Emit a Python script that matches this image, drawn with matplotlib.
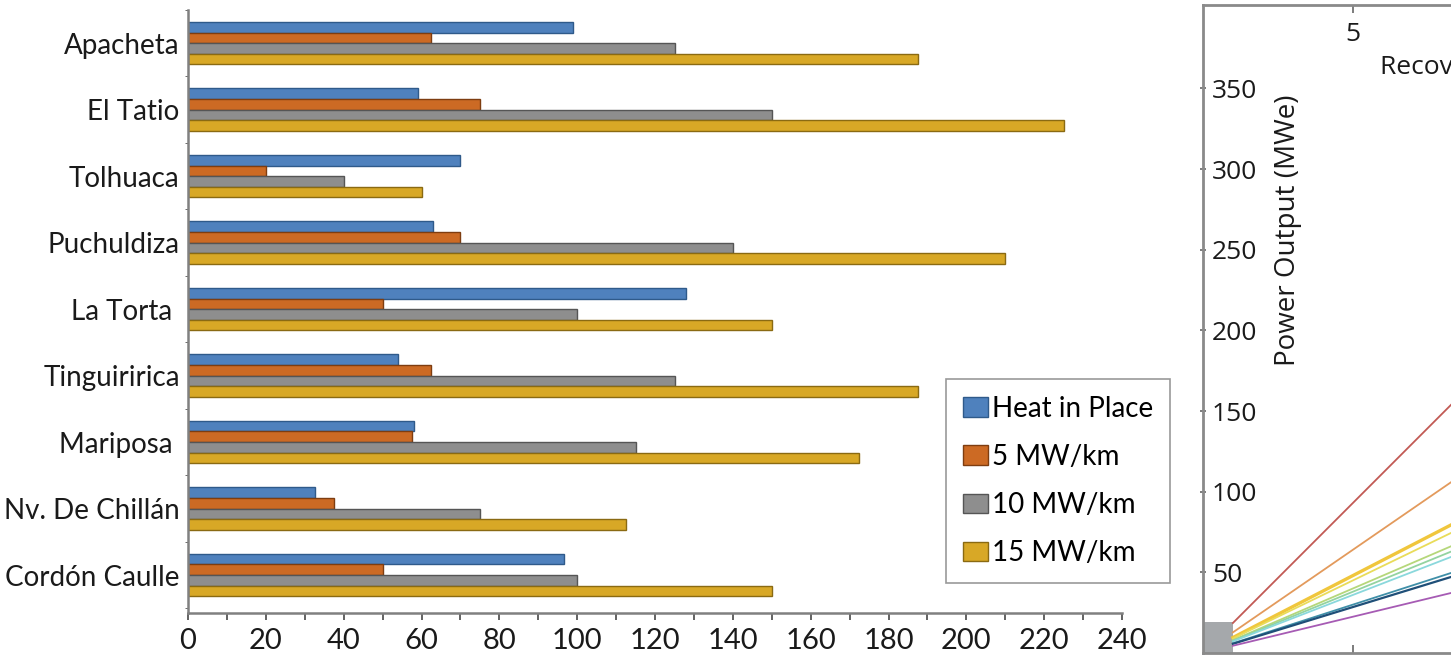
import numpy as np
import matplotlib.pyplot as plt
from matplotlib.ticker import MultipleLocator

# left panel: capacity per field
fields = ['Apacheta', 'El Tatio', 'Tolhuaca', 'Puchuldiza', 'La Torta ',
          'Tinguiririca', 'Mariposa ', 'Nv. De Chillán', 'Cordón Caulle']
heat_in_place = [99, 59, 70, 63, 128, 54, 58, 32.5, 96.5]
mw5 = [62.5, 75, 20, 70, 50, 62.5, 57.5, 37.5, 50]
mw10 = [125, 150, 40, 140, 100, 125, 115, 75, 100]
mw15 = [187.5, 225, 60, 210, 150, 187.5, 172.5, 112.5, 150]
series_names = ['Heat in Place', '5 MW/km', '10 MW/km', '15 MW/km']

# right panel: power output vs recovery factor (cut off at the edge)
rf = [1, 10]
line_start = [18.6, 12.8, 9.6, 9.0, 8.0, 7.6, 7.2, 6.0, 5.7, 4.5]
line_end = [186, 128, 96, 90, 80, 76, 72, 60, 57, 45]
line_colors = ['#c25a55', '#e39a5c', '#f0c63c', '#e9dc5a', '#b5d77a',
               '#93d3a0', '#8ad8dc', '#3f8fa8', '#1f4f78', '#a65bb4']
line_widths = [1.3, 1.3, 2.4, 1.3, 1.3, 1.3, 1.3, 1.3, 1.6, 1.3]
box_rf = 1.0
box_power = 19

narrow = ['Lato', 'DejaVu Sans']

fig = plt.figure(figsize=(14.51, 6.65), dpi=100)

ax = fig.add_axes([0.1296, 0.0782, 0.6437, 0.9068])
pos = np.arange(len(fields))[::-1]
h = 0.16
fills = ['#4f81bd', '#cc6a24', '#8e8e8e', '#d8a826']
edges = ['#2f5a8a', '#7e3d10', '#555555', '#8a6a12']
data = [heat_in_place, mw5, mw10, mw15]
offs = [1.5, 0.5, -0.5, -1.5]
for vals, fc, ec, o, name in zip(data, fills, edges, offs, series_names):
    ax.barh(pos + o * h, vals, height=h, color=fc, edgecolor=ec, linewidth=1.0, label=name)

ax.set_xlim(0, 240)
ax.set_ylim(-0.57, 8.44)
ax.set_yticks(pos)
ax.set_yticklabels(fields, family=narrow, fontsize=20, color='#1a1a1a')
ax.set_yticks(np.arange(-0.5, 9, 1), minor=True)
ax.tick_params(axis='y', which='major', length=0, pad=6)
ax.tick_params(axis='y', which='minor', length=2, color='#555555')
ax.xaxis.set_major_locator(MultipleLocator(20))
ax.xaxis.set_minor_locator(MultipleLocator(10))
ax.tick_params(axis='x', which='both', length=5, width=1.3, color='#555555', pad=6)
for t in ax.get_xticklabels():
    t.set_family(narrow)
    t.set_fontsize(21)
    t.set_color('#1a1a1a')
for s in ['top', 'right']:
    ax.spines[s].set_visible(False)
for s in ['left', 'bottom']:
    ax.spines[s].set_color('#808080')
    ax.spines[s].set_linewidth(1.8)

leg = ax.legend(loc='upper left', bbox_to_anchor=(0.652, 0.430), bbox_transform=fig.transFigure,
                borderaxespad=0, fancybox=False, edgecolor='#999999', framealpha=1,
                prop={'family': narrow, 'size': 20}, handlelength=0.9, handleheight=0.7,
                handletextpad=0.15, labelspacing=0.8, borderpad=0.6)
leg.get_frame().set_linewidth(1.2)

# right panel
ax2 = fig.add_axes([0.829, 0.018, 0.4135, 0.974])
ax2.fill_between([0, box_rf], 0, box_power, color='#a5a8ab', linewidth=0)
for y0, y1, c, lw in zip(line_start, line_end, line_colors, line_widths):
    ax2.plot(rf, [y0, y1], color=c, linewidth=lw)
ax2.set_xlim(0, 20)
ax2.set_ylim(0, 401.5)
ax2.set_yticks([50, 100, 150, 200, 250, 300, 350])
ax2.set_xticks([5])
ax2.xaxis.set_ticks_position('both')
ax2.tick_params(axis='x', direction='in', length=6, width=1.2, color='#666666',
                top=True, labeltop=True, labelbottom=False, pad=-12)
for t in ax2.get_xticklabels():
    t.set_verticalalignment('top')
ax2.tick_params(axis='y', direction='inout', length=4, width=1.2, color='#666666', pad=-8.5)
for t in ax2.get_yticklabels():
    t.set_horizontalalignment('left')
for t in ax2.get_xticklabels() + ax2.get_yticklabels():
    t.set_family('Open Sans')
    t.set_fontsize(19)
    t.set_color('#1a1a1a')
for s in ax2.spines.values():
    s.set_color('#8a8a8a')
    s.set_linewidth(2)
ax2.set_ylabel('Power Output (MWe)', family='Open Sans', fontsize=20, color='#1a1a1a')
ax2.yaxis.set_label_coords(0.165, 0.653)
ax2.text(5.9, 363, 'Recovery Factor (%)', family='Open Sans', fontsize=19,
         color='#1a1a1a', va='center')

plt.savefig('out.png', dpi=100)
